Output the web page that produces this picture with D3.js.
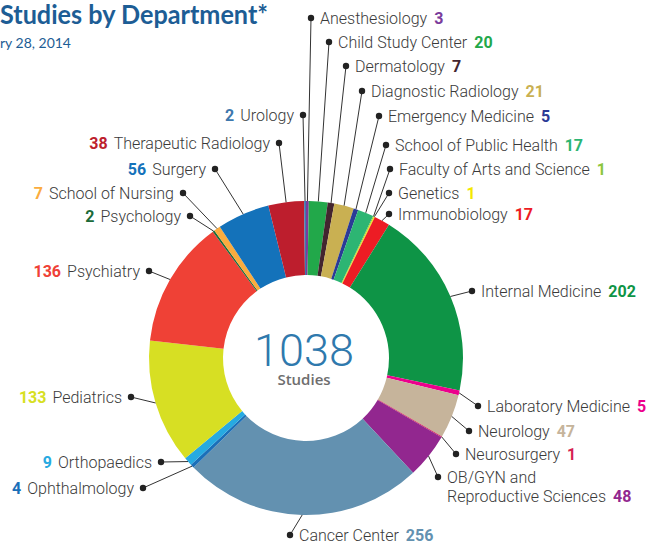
<!DOCTYPE html>
<html>
<head>
<meta charset="utf-8">
<script src="https://cdn.jsdelivr.net/npm/d3@7"></script>
<style>
  body { margin: 0; background: #fff; overflow: hidden; }
</style>
</head>
<body>
<script>
// departments in the order they go round the ring, clockwise from 12 o'clock
const departments = [
  "Anesthesiology", "Child Study Center", "Dermatology", "Diagnostic Radiology",
  "Emergency Medicine", "School of Public Health", "Faculty of Arts and Science",
  "Genetics", "Immunobiology", "Internal Medicine", "Laboratory Medicine",
  "Neurology", "Neurosurgery", "OB/GYN and\nReproductive Sciences", "Cancer Center",
  "Ophthalmology", "Orthopaedics", "Pediatrics", "Psychiatry", "Psychology",
  "School of Nursing", "Surgery", "Therapeutic Radiology", "Urology"
];
const counts = [3, 20, 7, 21, 5, 17, 1, 1, 17, 202, 5, 47, 1, 48, 256, 4, 9, 133, 136, 2, 7, 56, 38, 2];

const colors = [
  "#7b3c9c", "#22a84a", "#43252f", "#c9b052", "#2b3a96", "#2db573", "#8cc63f",
  "#f4e800", "#ed1c24", "#0e9446", "#ec008c", "#c6b49b", "#d61f52", "#92278f",
  "#6391b0", "#1b6fb8", "#27aae1", "#d7df23", "#ef4136", "#1b6b3a", "#fbac3e",
  "#1472ba", "#bd1e2d", "#3e78ad"
];

// where each label's dot sits, and which side its text runs to
const labelDots = [
  [311, 18, "r"], [329, 42, "r"], [346, 66, "r"], [362, 91, "r"], [379, 116, "r"],
  [386, 145, "r"], [390, 169, "r"], [389, 193, "r"], [389, 214, "r"], [472, 291, "r"],
  [478, 406, "r"], [469, 431, "r"], [456, 454, "r"], [438, 477, "r"], [290, 535, "r"],
  [143, 488, "l"], [161, 462, "l"], [131, 397, "l"], [149, 271, "l"], [190, 216, "l"],
  [183, 193, "l"], [215, 169, "l"], [279, 143, "l"], [303, 115, "l"]
];

const width = 665, height = 546;
const cx = 306, cy = 358, outerR = 157, innerR = 83;
const labelFont = "Roboto, 'Liberation Sans', sans-serif";
const headFont = "Lato, 'Open Sans', sans-serif";

const svg = d3.select("body").append("svg")
    .attr("width", width)
    .attr("height", height);

const slices = departments.map((name, i) => ({
    name: name, count: counts[i], color: colors[i], dot: labelDots[i]
}));

const pie = d3.pie().sort(null).value(d => d.count);
const arc = d3.arc().innerRadius(innerR).outerRadius(outerR);
const arcs = pie(slices);

const ring = svg.append("g").attr("transform", `translate(${cx},${cy})`);
ring.selectAll("path")
    .data(arcs)
    .join("path")
    .attr("d", arc)
    .attr("fill", d => d.data.color);

// leader lines + labels
const labels = svg.append("g");
arcs.forEach(d => {
    const mid = (d.startAngle + d.endAngle) / 2;
    const x0 = cx + outerR * Math.sin(mid), y0 = cy - outerR * Math.cos(mid);
    const [x1, y1, side] = d.data.dot;

    labels.append("line")
        .attr("x1", x0).attr("y1", y0).attr("x2", x1).attr("y2", y1)
        .attr("stroke", "#333").attr("stroke-width", 1);
    labels.append("circle")
        .attr("cx", x1).attr("cy", y1).attr("r", 3.2)
        .attr("fill", "#222");

    const lines = d.data.name.split("\n");
    const t = labels.append("text")
        .attr("y", y1 + 5.5)
        .style("font-family", labelFont)
        .attr("font-size", 16)
        .attr("font-weight", 300)
        .attr("fill", "#3a3a3a");

    if (side === "r") {
        t.attr("x", x1 + 9);
        lines.forEach((ln, k) => {
            const ts = t.append("tspan").text(ln);
            if (k > 0) ts.attr("x", x1 + 9).attr("dy", 19.5);
        });
        t.append("tspan")
            .attr("dx", 7)
            .attr("font-weight", 700)
            .attr("fill", d.data.color)
            .text(d.data.count);
    } else {
        t.attr("x", x1 - 9).attr("text-anchor", "end");
        t.append("tspan")
            .attr("font-weight", 700)
            .attr("fill", d.data.color)
            .text(d.data.count);
        t.append("tspan").attr("dx", 6).text(lines[0]);
    }
});

// centre total
svg.append("text")
    .attr("x", cx - 2).attr("y", cy + 8)
    .attr("text-anchor", "middle")
    .style("font-family", labelFont)
    .attr("font-size", 45)
    .attr("font-weight", 300)
    .attr("fill", "#2f79ad")
    .text(d3.sum(counts));
svg.append("text")
    .attr("x", cx - 2).attr("y", cy + 27)
    .attr("text-anchor", "middle")
    .style("font-family", "'Open Sans', sans-serif")
    .attr("font-size", 15)
    .attr("font-weight", 600)
    .attr("fill", "#6e6e6e")
    .text("Studies");

// title, cut off at the left edge as in the source
svg.append("text")
    .attr("x", 0).attr("y", 24)
    .style("font-family", headFont)
    .attr("font-size", 27)
    .attr("font-weight", 700)
    .attr("fill", "#1d5d95")
    .attr("textLength", 268)
    .attr("lengthAdjust", "spacingAndGlyphs")
    .text("Studies by Department*");
svg.append("text")
    .attr("x", 0).attr("y", 48)
    .style("font-family", headFont)
    .attr("font-size", 14)
    .attr("fill", "#1d5d95")
    .attr("textLength", 71)
    .attr("lengthAdjust", "spacingAndGlyphs")
    .text("ry 28, 2014");
</script>
</body>
</html>
